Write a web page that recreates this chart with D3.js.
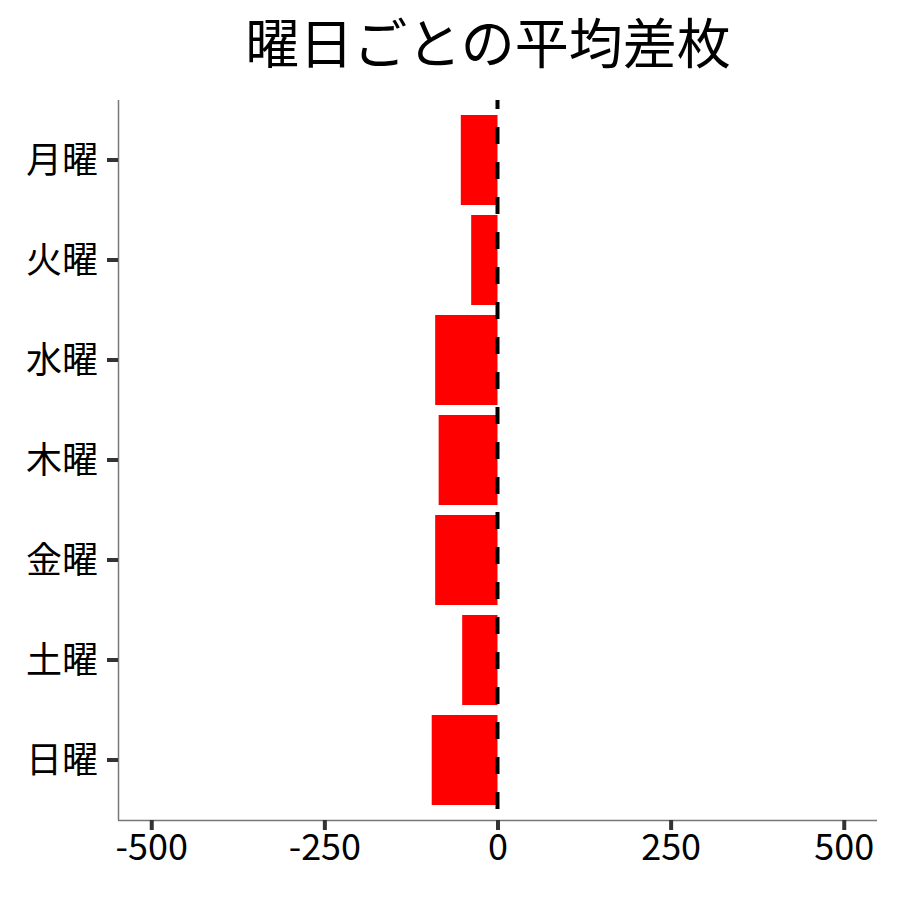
<!DOCTYPE html>
<html><head><meta charset="utf-8">
<script src="https://cdn.jsdelivr.net/npm/d3@7"></script>
<style>body{margin:0;background:#fff}svg{display:block}</style>
</head><body>
<svg id="c" width="900" height="900"></svg>
<script>
const categories = ["月曜","火曜","水曜","木曜","金曜","土曜","日曜"];
const values = [-53, -38, -90, -85, -90, -51, -95];
const xTicks = [-500, -250, 0, 250, 500];
const xTickLabels = ["-500","-250","0","250","500"];
const title = "曜日ごとの平均差枚";

const svg = d3.select("#c");
const font = "'Noto Sans CJK JP','Noto Sans',sans-serif";
const L = 118, R = 877, T = 100, B = 820;

const x = d3.scaleLinear().domain([-548, 548]).range([L, R]);
const y = d3.scaleBand().domain(categories).range([110, 810]).paddingInner(0.1).paddingOuter(0.05);

svg.append("g").selectAll("rect").data(categories).join("rect")
  .attr("x", (d,i) => x(Math.min(0, values[i])))
  .attr("width", (d,i) => Math.abs(x(values[i]) - x(0)))
  .attr("y", d => y(d))
  .attr("height", y.bandwidth())
  .attr("fill", "#ff0000");

// dashed zero line
svg.append("line")
  .attr("x1", x(0)).attr("x2", x(0)).attr("y1", T).attr("y2", B)
  .attr("stroke", "#000").attr("stroke-width", 4)
  .attr("stroke-dasharray", "17,18").attr("stroke-dashoffset", 8);

// axes
const xAxis = d3.axisBottom(x).tickValues(xTicks).tickFormat((d,i) => xTickLabels[i]).tickSize(10).tickPadding(4);
const gx = svg.append("g").attr("transform", `translate(0,${B})`).call(xAxis);
gx.select(".domain").attr("d", `M${L},0.5H${R}`).attr("stroke", "#777").attr("stroke-width", 1.5);
gx.selectAll(".tick line").attr("stroke", "#333").attr("stroke-width", 4);
gx.selectAll(".tick text").attr("font-family", font).attr("font-size", 36).attr("fill", "#000").attr("dy", "0.72em");

const yAxis = d3.axisLeft(y).tickSize(11).tickPadding(9);
const gy = svg.append("g").attr("transform", `translate(${L},0)`).call(yAxis);
gy.select(".domain").attr("d", `M0.5,${T}V${B}`).attr("stroke", "#777").attr("stroke-width", 1.5);
gy.selectAll(".tick line").attr("stroke", "#333").attr("stroke-width", 4);
gy.selectAll(".tick text").attr("font-family", font).attr("font-size", 36).attr("fill", "#000").attr("dy", "0.35em");

svg.append("text").attr("x", 488).attr("y", 64).attr("text-anchor", "middle")
  .attr("font-family", font).attr("font-size", 54).attr("fill", "#000").text(title);
</script>
</body></html>
